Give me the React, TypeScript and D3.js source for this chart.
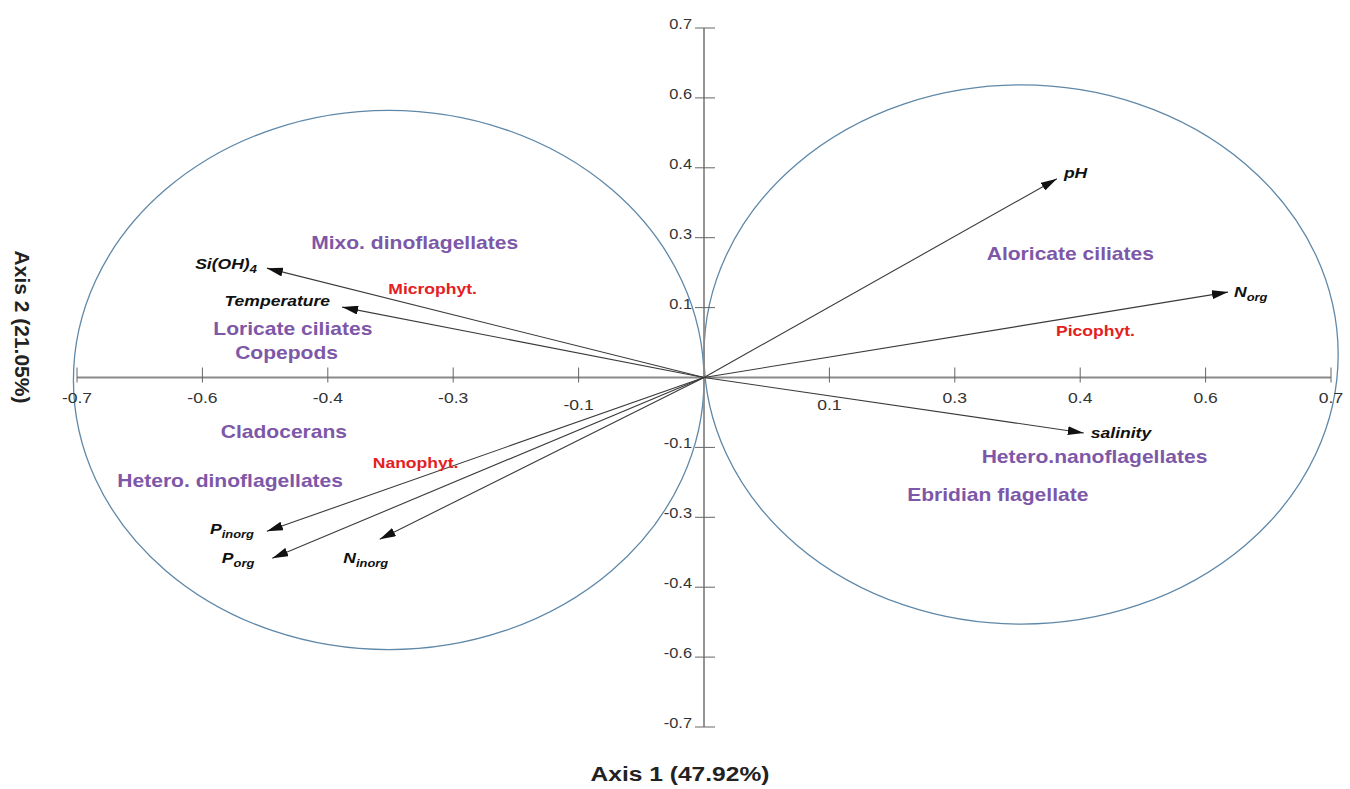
import React from 'react';
import * as d3 from 'd3';

// ---------- data ----------
const xTickValues = [-0.7, -0.56, -0.42, -0.28, -0.14, 0.14, 0.28, 0.42, 0.56, 0.7];
const xTickLabels = ['-0.7', '-0.6', '-0.4', '-0.3', '-0.1', '0.1', '0.3', '0.4', '0.6', '0.7'];
const yTickValues = [-0.7, -0.56, -0.42, -0.28, -0.14, 0.14, 0.28, 0.42, 0.56, 0.7];
const yTickLabels = ['-0.7', '-0.6', '-0.4', '-0.3', '-0.1', '0.1', '0.3', '0.4', '0.6', '0.7'];

const variableNames = ['pH', 'Norg', 'salinity', 'SiOH4', 'Temperature', 'Pinorg', 'Porg', 'Ninorg'];
const variableMain = ['pH', 'N', 'salinity', 'Si(OH)', 'Temperature', 'P', 'P', 'N'];
const variableSub = ['', 'org', '', '4', '', 'inorg', 'org', 'inorg'];
const variableX = [0.394, 0.585, 0.424, -0.488, -0.404, -0.488, -0.482, -0.362];
const variableY = [0.398, 0.171, -0.111, 0.219, 0.141, -0.308, -0.362, -0.324];

const zooNames = ['Mixo. dinoflagellates', 'Loricate ciliates', 'Copepods', 'Cladocerans', 'Hetero. dinoflagellates',
  'Aloricate ciliates', 'Hetero.nanoflagellates', 'Ebridian flagellate'];
const zooX = [-0.323, -0.459, -0.466, -0.469, -0.529, 0.409, 0.436, 0.328];
const zooY = [0.270, 0.099, 0.049, -0.109, -0.207, 0.249, -0.159, -0.235];

const phytoNames = ['Microphyt.', 'Nanophyt.', 'Picophyt.'];
const phytoX = [-0.303, -0.322, 0.437];
const phytoY = [0.179, -0.171, 0.095];

const ellipseCx = [-0.352, 0.354];
const ellipseCy = [-0.005, 0.046];
const ellipseRx = [0.352, 0.354];
const ellipseRy = [0.54, 0.54];

const axis1Title = 'Axis 1 (47.92%)';
const axis2Title = 'Axis 2 (21.05%)';

// ---------- styling / layout ----------
const W = 1350;
const H = 789;
const SX = 1.17; // horizontal stretch of glyphs
const FONT = "'Liberation Sans', Arial, sans-serif";
const PURPLE = '#7d57a8';
const RED = '#e3211f';
const AXIS = '#8a8a8a';
const ELLIPSE = '#5f88a8';

const labelPlacement: Record<string, { anchor: string; dx: number; dy: number }> = {
  pH: { anchor: 'start', dx: 7, dy: -1 },
  Norg: { anchor: 'start', dx: 6, dy: 5 },
  salinity: { anchor: 'start', dx: 7, dy: 5 },
  SiOH4: { anchor: 'end', dx: -10, dy: 1 },
  Temperature: { anchor: 'end', dx: -12, dy: -1 },
  Pinorg: { anchor: 'end', dx: -13, dy: 3 },
  Porg: { anchor: 'end', dx: -18, dy: 5 },
  Ninorg: { anchor: 'middle', dx: -14, dy: 24 },
};

const x = d3.scaleLinear().domain([-0.7, 0.7]).range([77, 1331]);
const y = d3.scaleLinear().domain([-0.7, 0.7]).range([727, 28]);

function SText(props: {
  x: number; y: number; anchor?: string; size: number; weight?: string | number; fill: string;
  italic?: boolean; baseline?: string; children: React.ReactNode;
}) {
  return (
    <text
      transform={`translate(${props.x},${props.y}) scale(${SX},1)`}
      textAnchor={props.anchor || 'middle'}
      fontSize={props.size}
      fontWeight={props.weight || 'normal'}
      fontStyle={props.italic ? 'italic' : 'normal'}
      fill={props.fill}
      dominantBaseline={props.baseline || 'auto'}
      fontFamily={FONT}
    >
      {props.children}
    </text>
  );
}

export default function App() {
  const x0 = x(0);
  const y0 = y(0);
  return (
    <svg width={W} height={H} style={{ position: 'absolute', left: 0, top: 0, background: '#fff' }}>
      <defs>
        <marker id="arrow" markerUnits="userSpaceOnUse" markerWidth={17} markerHeight={9}
          refX={16} refY={4.5} orient="auto">
          <path d="M0,0 L16,4.5 L0,9 Z" fill="#111" />
        </marker>
      </defs>

      {/* ellipses */}
      {ellipseCx.map((cx, i) => (
        <ellipse key={'e' + i} cx={x(cx)} cy={y(ellipseCy[i])}
          rx={x(ellipseRx[i]) - x0} ry={y0 - y(ellipseRy[i])}
          fill="none" stroke={ELLIPSE} strokeWidth={1.3} />
      ))}

      {/* axes */}
      <line x1={x(-0.7)} x2={x(0.7)} y1={y0} y2={y0} stroke={AXIS} strokeWidth={1.8} />
      <line x1={x0} x2={x0} y1={y(0.7)} y2={y(-0.7)} stroke={AXIS} strokeWidth={1.8} />
      {xTickValues.map((v, i) => (
        <g key={'xt' + i}>
          <line x1={x(v)} x2={x(v)} y1={y0 - 10} y2={y0 + 5} stroke="#666" strokeWidth={1} />
          <SText x={x(v)} y={y0 + (Math.abs(v) < 0.15 ? 32 : 25)} size={15} fill="#333">
            {xTickLabels[i]}
          </SText>
        </g>
      ))}
      {yTickValues.map((v, i) => (
        <g key={'yt' + i}>
          <line x1={x0 - 9} x2={x0 + 11} y1={y(v)} y2={y(v)} stroke="#666" strokeWidth={1} />
          <SText x={x0 - 12} y={y(v) + 1} size={14} fill="#333" anchor="end">
            {yTickLabels[i]}
          </SText>
        </g>
      ))}

      {/* arrows */}
      {variableNames.map((n, i) => (
        <line key={'a' + n} x1={x0} y1={y0} x2={x(variableX[i])} y2={y(variableY[i])}
          stroke="#3a3a3a" strokeWidth={1.1} markerEnd="url(#arrow)" />
      ))}

      {/* variable labels */}
      {variableNames.map((n, i) => {
        const p = labelPlacement[n];
        return (
          <SText key={'vl' + n} x={x(variableX[i]) + p.dx} y={y(variableY[i]) + p.dy}
            anchor={p.anchor} size={15} weight="bold" italic fill="#111">
            {variableMain[i]}
            {variableSub[i] ? (
              <tspan dy={4} fontSize={11}>{variableSub[i]}</tspan>
            ) : null}
          </SText>
        );
      })}

      {/* zooplankton labels */}
      {zooNames.map((n, i) => (
        <SText key={'z' + i} x={x(zooX[i])} y={y(zooY[i])} size={18} weight="bold"
          fill={PURPLE} baseline="central">
          {n}
        </SText>
      ))}

      {/* phytoplankton labels */}
      {phytoNames.map((n, i) => (
        <SText key={'p' + i} x={x(phytoX[i])} y={y(phytoY[i])} size={15} weight="bold"
          fill={RED} baseline="central">
          {n}
        </SText>
      ))}

      {/* axis titles */}
      <SText x={680} y={781} size={21} weight="bold" fill="#222">{axis1Title}</SText>
      <text transform={`translate(22,327) rotate(90)`} textAnchor="middle" dominantBaseline="central"
        fontSize={21} fontWeight="bold" fill="#222" fontFamily={FONT}>
        {axis2Title}
      </text>
    </svg>
  );
}
